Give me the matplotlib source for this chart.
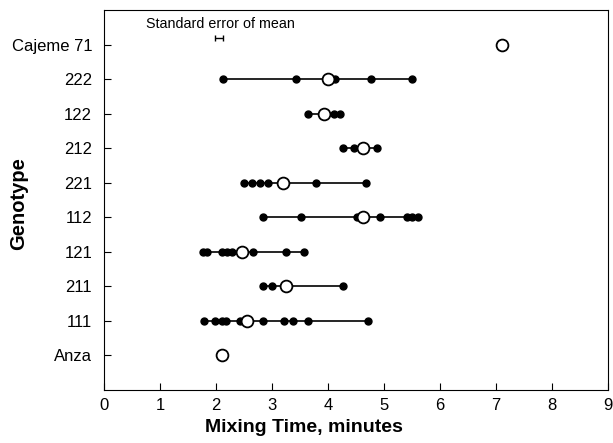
import numpy as np
import matplotlib.pyplot as plt

plt.rcParams['font.family'] = ['Liberation Sans', 'DejaVu Sans']

genotypes = ['Anza', '111', '211', '121', '112', '221', '212', '122', '222', 'Cajeme 71']

lines = {
    '222': [2.13, 3.43, 4.12, 4.77, 5.50],
    '122': [3.65, 4.10, 4.22],
    '212': [4.27, 4.46, 4.65, 4.87],
    '221': [2.50, 2.64, 2.79, 2.93, 3.78, 4.67],
    '112': [2.84, 3.52, 4.51, 4.93, 5.41, 5.50, 5.61],
    '121': [1.77, 1.84, 2.10, 2.20, 2.28, 2.66, 3.25, 3.57],
    '211': [2.84, 3.00, 4.27],
    '111': [1.79, 1.98, 2.10, 2.17, 2.43, 2.84, 3.21, 3.37, 3.65, 4.71],
}

means = {
    'Anza': 2.10, '111': 2.55, '211': 3.25, '121': 2.46, '112': 4.63,
    '221': 3.20, '212': 4.62, '122': 3.93, '222': 4.00, 'Cajeme 71': 7.11,
}

sem_x = 2.05
sem = 0.07

fig, ax = plt.subplots(figsize=(6.13, 4.43), dpi=100)
fig.subplots_adjust(left=0.1697, right=0.9918, bottom=0.1196, top=0.977)

for i, g in enumerate(genotypes):
    if g in lines:
        vals = lines[g]
        ax.plot([min(vals), max(vals)], [i, i], color='black', lw=1.2, zorder=1)
        ax.plot(vals, [i] * len(vals), 'o', color='black', ms=5, zorder=2)
    ax.plot(means[g], i, 'o', mfc='white', mec='black', mew=1.3, ms=8.5, zorder=3)

# standard error of mean key
ax.errorbar(sem_x, 9.19, xerr=sem, fmt='none', ecolor='black', elinewidth=1, capsize=2.5)
ax.text(0.75, 9.59, 'Standard error of mean', fontsize=10.3, va='center', ha='left')

ax.set_xlim(0, 9)
ax.set_ylim(-1, 10)
ax.set_xticks(range(10))
ax.set_yticks(range(len(genotypes)))
ax.set_yticklabels(genotypes)
ax.tick_params(direction='in', labelsize=12, length=5)
ax.tick_params(axis='y', pad=8.5)
ax.tick_params(axis='x', pad=6)
ax.set_xlabel('Mixing Time, minutes', fontsize=14, fontweight='bold')
ax.set_ylabel('Genotype', fontsize=14.5, fontweight='bold')
ax.xaxis.set_label_coords(0.397, -0.076)
ax.yaxis.set_label_coords(-0.150, 0.49)

plt.savefig('out.png')
